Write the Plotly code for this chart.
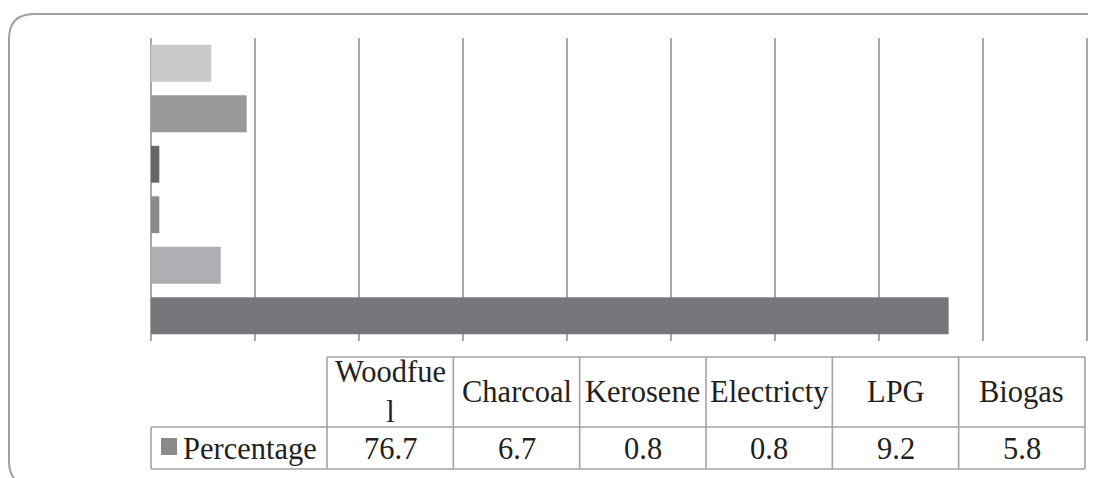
import plotly.graph_objects as go

# ---- data ----
categories = ["Woodfuel", "Charcoal", "Kerosene", "Electricty", "LPG", "Biogas"]
header_labels = ["Woodfue<br>l", "Charcoal", "Kerosene", "Electricty", "LPG", "Biogas"]
percentage = [76.7, 6.7, 0.8, 0.8, 9.2, 5.8]
value_labels = ["76.7", "6.7", "0.8", "0.8", "9.2", "5.8"]
series_name = "Percentage"

# ---- style ----
bar_colors = ["#76777b", "#aeafb2", "#8b8b8e", "#67676a", "#98999b", "#c8c9cb"]
grid_color = "#a8a8aa"
border_color = "#a3a3a5"
text_color = "#231f20"
FONT = "Liberation Serif, Times New Roman, Times, serif"
FS = 30.5

W, H = 1096, 478
OFF = 8  # page body margin
L, R, T, B = 151, 1088, 38, 341  # plot area in window pixels
XMAX = 90.1


def fx(px):
    return (px - L) / (R - L)


def fy(py):
    return (B - py) / (B - T)


fig = go.Figure()
fig.add_trace(go.Bar(
    y=categories, x=percentage, orientation="h",
    marker=dict(color=bar_colors, line=dict(width=0)),
    showlegend=False, hoverinfo="skip",
))

shapes = []

# outer rounded frame
fl, ft, fr, fb, rad = 9, 14, 1112, 486, 25
path = (f"M {fx(fl+rad)},{fy(ft)} L {fx(fr-rad)},{fy(ft)} "
        f"Q {fx(fr)},{fy(ft)} {fx(fr)},{fy(ft+rad)} "
        f"L {fx(fr)},{fy(fb-rad)} Q {fx(fr)},{fy(fb)} {fx(fr-rad)},{fy(fb)} "
        f"L {fx(fl+rad)},{fy(fb)} Q {fx(fl)},{fy(fb)} {fx(fl)},{fy(fb-rad)} "
        f"L {fx(fl)},{fy(ft+rad)} Q {fx(fl)},{fy(ft)} {fx(fl+rad)},{fy(ft)} Z")
shapes.append(dict(type="path", path=path, xref="paper", yref="paper",
                   line=dict(color="#a0a0a2", width=2), fillcolor="rgba(0,0,0,0)",
                   layer="below"))

# data table
tl, lab_r, tr = 151, 327, 1085
h_top, mid, bot = 357, 427, 469
ncol = len(categories)
cw = (tr - lab_r) / ncol


def seg(x0, y0, x1, y1):
    shapes.append(dict(type="line", xref="paper", yref="paper",
                       x0=fx(x0), y0=fy(y0), x1=fx(x1), y1=fy(y1),
                       line=dict(color=border_color, width=1.6)))


seg(lab_r, h_top, tr, h_top)
seg(tl, mid, tr, mid)
seg(tl, bot, tr, bot)
seg(tl, mid, tl, bot)
for i in range(ncol + 1):
    x = lab_r + i * cw
    seg(x, h_top, x, bot)

# legend key square
shapes.append(dict(type="rect", xref="paper", yref="paper",
                   x0=fx(161), x1=fx(177), y0=fy(438), y1=fy(455),
                   fillcolor="#8a8a8c", line=dict(width=0)))

annotations = []
for i, (hl, vl) in enumerate(zip(header_labels, value_labels)):
    cx = lab_r + (i + 0.5) * cw
    annotations.append(dict(x=fx(cx), y=fy((h_top + mid) / 2), xref="paper", yref="paper",
                            text=hl, showarrow=False, xanchor="center", yanchor="middle",
                            font=dict(family=FONT, size=FS, color=text_color)))
    annotations.append(dict(x=fx(cx), y=fy((mid + bot) / 2 + 1), xref="paper", yref="paper",
                            text=vl, showarrow=False, xanchor="center", yanchor="middle",
                            font=dict(family=FONT, size=FS, color=text_color)))
annotations.append(dict(x=fx(181), y=fy((mid + bot) / 2 + 1), xref="paper", yref="paper",
                        text=series_name, showarrow=False, xanchor="left", yanchor="middle",
                        font=dict(family=FONT, size=FS, color=text_color)))

fig.update_layout(
    width=W, height=H,
    margin=dict(l=L - OFF, r=W - (R - OFF), t=T - OFF, b=H - (B - OFF), pad=0),
    paper_bgcolor="white", plot_bgcolor="white",
    bargap=0.27,
    shapes=shapes, annotations=annotations,
    xaxis=dict(range=[0, XMAX], dtick=10, tick0=0, showticklabels=False, ticks="",
               showgrid=True, gridcolor=grid_color, gridwidth=2,
               zeroline=True, zerolinecolor=grid_color, zerolinewidth=2,
               showline=False, fixedrange=True),
    yaxis=dict(showticklabels=False, ticks="", showgrid=False, zeroline=False,
               showline=False, categoryorder="array", categoryarray=categories,
               fixedrange=True),
    font=dict(family=FONT, color=text_color),
)

fig.write_html("out.html", config={"displayModeBar": False})
